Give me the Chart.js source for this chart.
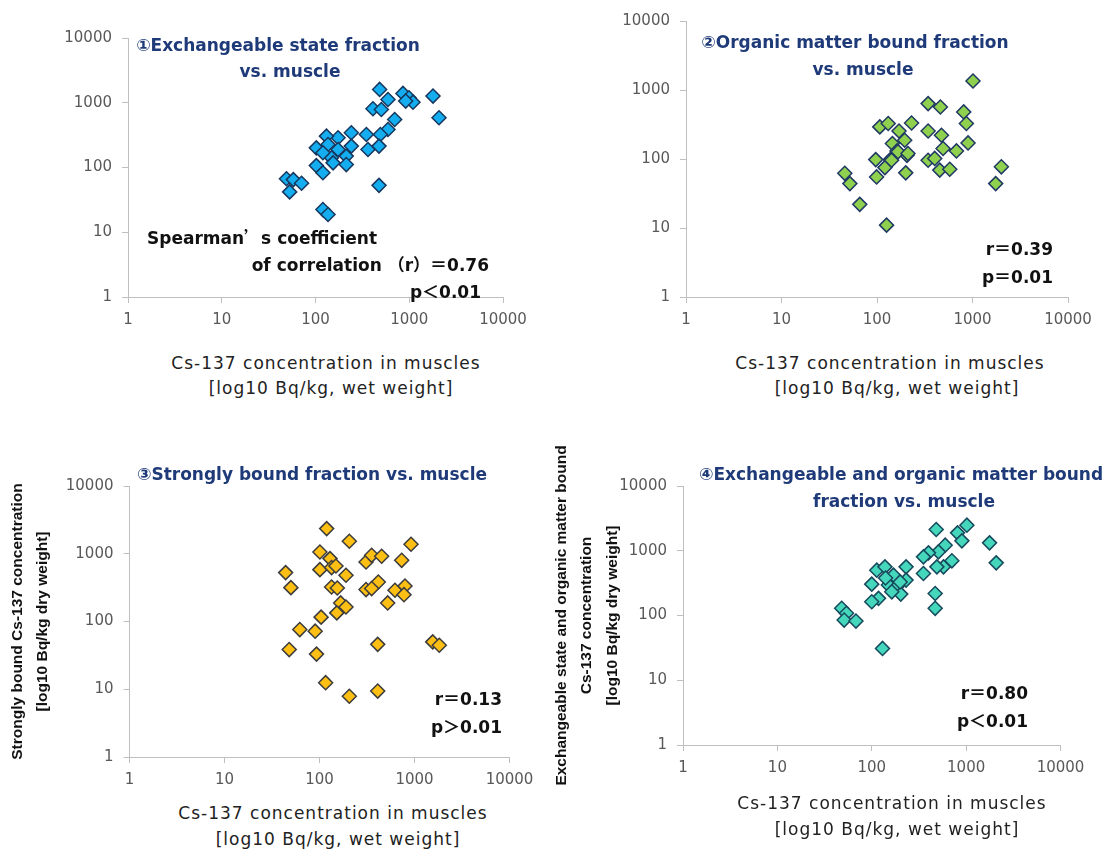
<!DOCTYPE html>
<html>
<head>
<meta charset="utf-8">
<script src="https://cdn.jsdelivr.net/npm/chart.js@4/dist/chart.umd.min.js"></script>
<style>
  body { margin: 0; background: #fff; }
  #wrap { position: relative; width: 1108px; height: 855px; background: #fff; overflow: hidden; }
  #wrap canvas { position: absolute; display: block; }
  .t { position: absolute; white-space: nowrap; line-height: 20px; }
  .head { font: bold 17px "DejaVu Sans", sans-serif; color: #1f3a78; }
  .stat { font: bold 17px "DejaVu Sans", sans-serif; color: #111; }
  .axis { font: 17px "DejaVu Sans", sans-serif; color: #222; letter-spacing: 1px; }
  .fw { font-family: "Noto Sans CJK JP", sans-serif; font-feature-settings: "fwid"; }
  .c { transform: translate(-50%, -50%); }
  .l { transform: translateY(-50%); }
  .r { transform: translateY(-50%); }
</style>
</head>
<body>
<div id="wrap">
  <canvas id="c1" width="554" height="345" style="left:0;top:0"></canvas>
  <canvas id="c2" width="554" height="345" style="left:554px;top:0"></canvas>
  <canvas id="c3" width="554" height="380" style="left:0;top:420px"></canvas>
  <canvas id="c4" width="568" height="380" style="left:540px;top:420px"></canvas>

  <!-- panel headings -->
  <div class="t head c" style="left:278px;top:45px">①Exchangeable state fraction</div>
  <div class="t head c" style="left:290px;top:71px">vs. muscle</div>
  <div class="t head c" style="left:855px;top:42px">②Organic matter bound fraction</div>
  <div class="t head c" style="left:863px;top:69px">vs. muscle</div>
  <div class="t head c" style="left:312px;top:474px">③Strongly bound fraction vs. muscle</div>
  <div class="t head l" style="left:699px;top:474px">④Exchangeable and organic matter bound</div>
  <div class="t head c" style="left:904px;top:501px">fraction vs. muscle</div>

  <!-- correlation notes -->
  <div class="t stat l" style="left:147px;top:236px">Spearman<span class="fw">’</span>s coefficient</div>
  <div class="t stat r" style="right:619px;top:263px">of correlation <span class="fw">（</span>r<span class="fw">）＝</span>0.76</div>
  <div class="t stat r" style="right:627px;top:290px">p<span class="fw">＜</span>0.01</div>
  <div class="t stat r" style="right:55px;top:247px">r<span class="fw">＝</span>0.39</div>
  <div class="t stat r" style="right:55px;top:275px">p<span class="fw">＝</span>0.01</div>
  <div class="t stat r" style="right:606px;top:697px">r<span class="fw">＝</span>0.13</div>
  <div class="t stat r" style="right:606px;top:725px">p<span class="fw">＞</span>0.01</div>
  <div class="t stat r" style="right:80px;top:691px">r<span class="fw">＝</span>0.80</div>
  <div class="t stat r" style="right:80px;top:719px">p<span class="fw">＜</span>0.01</div>

  <!-- x axis titles -->
  <div class="t axis c" style="left:326px;top:363px">Cs-137 concentration in muscles</div>
  <div class="t axis c" style="left:331px;top:388px">[log10 Bq/kg, wet weight]</div>
  <div class="t axis c" style="left:890px;top:363px">Cs-137 concentration in muscles</div>
  <div class="t axis c" style="left:897px;top:388px">[log10 Bq/kg, wet weight]</div>
  <div class="t axis c" style="left:333px;top:813px">Cs-137 concentration in muscles</div>
  <div class="t axis c" style="left:338px;top:839px">[log10 Bq/kg, wet weight]</div>
  <div class="t axis c" style="left:892px;top:803px">Cs-137 concentration in muscles</div>
  <div class="t axis c" style="left:897px;top:829px">[log10 Bq/kg, wet weight]</div>
</div>

<script>
// decade ticks shared by every axis
var decadeTicks = [1, 10, 100, 1000, 10000];

// ① exchangeable state fraction vs. muscle (Bq/kg)
var exchMuscle = [483, 593, 857, 994, 1096, 916, 1792, 2077, 410, 504, 699, 593, 492, 349, 363, 476, 476,
  241, 241, 213, 213, 174, 174, 131, 136, 148, 154, 102, 102, 120, 120, 136, 49, 58, 53, 71, 120];
var exchSoil = [1607, 1125, 1393, 1195, 1021, 1061, 1268, 586, 807, 788, 552, 387, 324, 324, 190, 214, 53,
  344, 214, 150, 111, 288, 190, 305, 227, 141, 118, 201, 107, 83, 22.4, 18.8, 67, 65, 42, 57, 169];

// ② organic matter bound fraction vs. muscle
var orgMuscle = [1012, 343, 461, 809, 863, 107, 131, 230, 170, 343, 473, 195, 145, 162, 206, 492, 679, 898,
  97, 138, 121, 343, 454, 578, 200, 99, 46, 52, 66, 126, 2005, 1749, 402, 142, 166, 211];
var orgSoil = [1349, 635, 567, 481, 327, 292, 327, 333, 255, 255, 221, 187, 168, 131, 113, 142, 131, 171,
  98, 98, 75, 96, 69, 71, 63, 55, 62, 44, 22, 11, 77, 44, 102, 96, 127, 120];

// ③ strongly bound fraction vs. muscle
var strongMuscle = [119, 206, 919, 101, 129, 309, 354, 451, 733, 44, 101, 134, 190, 50, 134, 154, 309, 416,
  623, 794, 775, 522, 167, 190, 152, 104, 62, 90, 48, 93, 410, 1556, 1824, 116, 206, 410, 354, 149];
var strongSoil = [2350, 1527, 1380, 1062, 848, 755, 948, 917, 800, 527, 583, 625, 481, 316, 323, 312, 296, 383,
  289, 334, 249, 188, 188, 164, 134, 116, 76, 72, 38.5, 33, 46, 50, 44.6, 12.5, 7.9, 9.4, 306, 660];

// ④ exchangeable + organic matter bound fraction vs. muscle
var exOrgMuscle = [482, 1019, 811, 902, 1771, 2084, 600, 509, 399, 353, 706, 576, 490, 353, 231, 231, 470, 470,
  113, 138, 170, 100, 150, 184, 203, 163, 118, 100, 48, 54, 51, 68, 130, 140, 200];
var exOrgSoil = [2132, 2483, 1889, 1422, 1324, 650, 1220, 961, 928, 805, 699, 564, 564, 446, 564, 352, 219, 129,
  501, 564, 420, 305, 295, 277, 214, 232, 184, 163, 129, 108, 85, 82, 31, 380, 330];

var tickFont = { family: 'DejaVu Sans', size: 15 };
var yTitleFont = { family: 'Liberation Sans', size: 15.5, weight: 'bold', lineHeight: 1.62 };

var panels = [
  { id: 'c1', xs: exchMuscle, ys: exchSoil, fill: '#14aef0', edge: '#17375e',
    yWidth: 128, xHeight: 48, padTop: 38, padRight: 51 },
  { id: 'c2', xs: orgMuscle, ys: orgSoil, fill: '#8fd14f', edge: '#1f3864',
    yWidth: 132, xHeight: 48, padTop: 21, padRight: 40 },
  { id: 'c3', xs: strongMuscle, ys: strongSoil, fill: '#fdbf14', edge: '#3c3c3c',
    yWidth: 129.5, xHeight: 43, padTop: 66, padRight: 44.5, titlePad: 5.5,
    yTitle: ['Strongly bound Cs-137 concentration', '[log10 Bq/kg dry weight]'] },
  { id: 'c4', xs: exOrgMuscle, ys: exOrgSoil, fill: '#44d7bc', edge: '#164a5c',
    yWidth: 143, xHeight: 55, padTop: 66, padRight: 47.5, titlePad: 9.5,
    yTitle: ['Exchangeable state and organic matter bound', 'Cs-137 concentration', '[log10 Bq/kg dry weight]'] }
];

function decadeAxis(position, extra) {
  var axis = {
    type: 'logarithmic',
    position: position,
    min: 1,
    max: 10000,
    afterBuildTicks: function(scale) {
      scale.ticks = decadeTicks.map(function(v) { return { value: v }; });
    },
    ticks: {
      autoSkip: false,
      maxRotation: 0,
      font: tickFont,
      color: '#595959',
      padding: position === 'left' ? 10 : 8,
      callback: function(v) { return String(v); }
    },
    grid: { drawOnChartArea: false, drawTicks: true, tickLength: 6, color: '#bfbfbf' },
    border: { color: '#bfbfbf', width: 1 }
  };
  return Object.assign(axis, extra);
}

panels.forEach(function(p) {
  var points = p.xs.map(function(x, i) { return { x: x, y: p.ys[i] }; });
  new Chart(document.getElementById(p.id), {
    type: 'scatter',
    data: {
      datasets: [{
        data: points,
        pointStyle: 'rectRot',
        pointRadius: 7,
        pointHoverRadius: 7,
        borderWidth: 1.5,
        backgroundColor: p.fill,
        borderColor: p.edge
      }]
    },
    options: {
      responsive: false,
      animation: false,
      events: [],
      layout: { padding: { left: 0, top: p.padTop, right: p.padRight, bottom: 0 } },
      plugins: { legend: { display: false }, tooltip: { enabled: false } },
      scales: {
        x: decadeAxis('bottom', {
          afterFit: function(scale) { scale.height = p.xHeight; }
        }),
        y: decadeAxis('left', {
          title: p.yTitle ? {
            display: true, text: p.yTitle, font: yTitleFont, color: '#111',
            padding: { top: p.titlePad, bottom: 0 }
          } : { display: false },
          afterFit: function(scale) { scale.width = p.yWidth; }
        })
      }
    }
  });
});
</script>
</body>
</html>
